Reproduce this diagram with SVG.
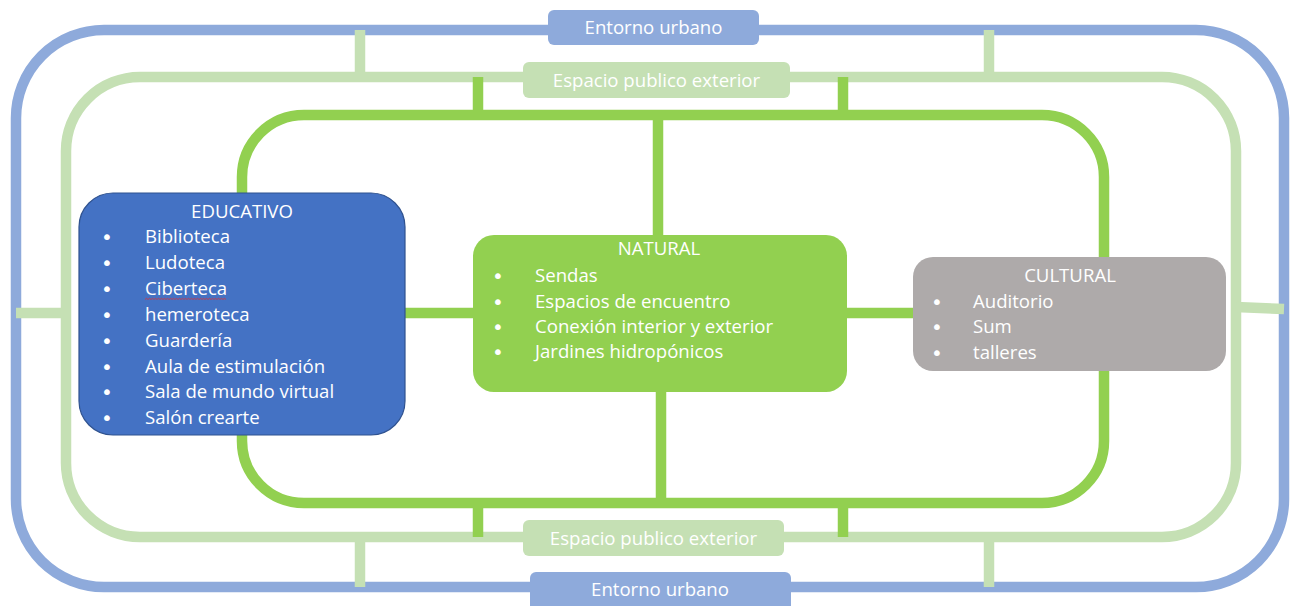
<svg xmlns="http://www.w3.org/2000/svg" width="1296" height="606" viewBox="0 0 1296 606">
<style>
.blue{fill:none;stroke:#8eaadb;stroke-width:10.5}
.lg{fill:none;stroke:#c5e0b4;stroke-width:10.5}
.bg{fill:none;stroke:#92d050;stroke-width:10.5}
text{font-family:"Open Sans","Noto Sans","Liberation Sans",sans-serif;fill:#ffffff;font-size:18.6px}
.c{text-anchor:middle}
.b{font-family:"DejaVu Sans",sans-serif;font-size:20px;text-anchor:middle}
</style>
<rect width="1296" height="606" fill="#ffffff"/>
<g id="connectors">
<rect class="blue" x="16" y="30" width="1268" height="557" rx="88"/>
<rect class="lg" x="66" y="77" width="1170" height="460" rx="74"/>
<rect class="bg" x="242" y="115" width="862" height="388" rx="62"/>
<line class="lg" x1="360" y1="30" x2="360" y2="77"/>
<line class="lg" x1="989" y1="30" x2="989" y2="77"/>
<line class="lg" x1="360" y1="537" x2="360" y2="587"/>
<line class="lg" x1="989" y1="537" x2="989" y2="587"/>
<line class="lg" x1="16" y1="313" x2="66" y2="313"/>
<line class="lg" x1="1236" y1="307" x2="1284" y2="309"/>
<line class="bg" x1="478" y1="77" x2="478" y2="115"/>
<line class="bg" x1="843" y1="77" x2="843" y2="115"/>
<line class="bg" x1="478" y1="503" x2="478" y2="537"/>
<line class="bg" x1="843" y1="503" x2="843" y2="537"/>
<line class="bg" x1="658" y1="115" x2="658" y2="236"/>
<line class="bg" x1="661" y1="391" x2="661" y2="503"/>
<line class="bg" x1="404" y1="313" x2="474" y2="313"/>
<line class="bg" x1="846" y1="313" x2="914" y2="313"/>
</g>
<g id="entorno-top">
<rect x="548" y="10" width="211" height="35" rx="6" fill="#8eaadb"/>
<text class="c" x="653.5" y="34">Entorno urbano</text>
</g>
<g id="espacio-top">
<rect x="523" y="62" width="267" height="36" rx="6" fill="#c5e0b4"/>
<text class="c" x="656.5" y="87">Espacio publico exterior</text>
</g>
<g id="espacio-bottom">
<rect x="523" y="520" width="261" height="36" rx="6" fill="#c5e0b4"/>
<text class="c" x="653.5" y="545">Espacio publico exterior</text>
</g>
<g id="entorno-bottom">
<rect x="530" y="572" width="261" height="44" rx="6" fill="#8eaadb"/>
<text class="c" x="660" y="596">Entorno urbano</text>
</g>
<g id="educativo">
<rect x="79" y="193" width="326" height="242" rx="34" fill="#4472c4" stroke="#2f528f" stroke-width="1.2"/>
<text class="c" x="242" y="218">EDUCATIVO</text>
<text class="b" x="107" y="244">•</text><text x="145" y="243">Biblioteca</text>
<text class="b" x="107" y="270">•</text><text x="145" y="269">Ludoteca</text>
<text class="b" x="107" y="296">•</text><text x="145" y="295">Ciberteca</text>
<text class="b" x="107" y="322">•</text><text x="145" y="321">hemeroteca</text>
<text class="b" x="107" y="348">•</text><text x="145" y="347">Guardería</text>
<text class="b" x="107" y="374">•</text><text x="145" y="373">Aula de estimulación</text>
<text class="b" x="107" y="399">•</text><text x="145" y="398">Sala de mundo virtual</text>
<text class="b" x="107" y="425">•</text><text x="145" y="424">Salón crearte</text>
<path d="M145 299.5 l1.5 -1.2 l1.5 1.2 l1.5 -1.2 l1.5 1.2 l1.5 -1.2 l1.5 1.2 l1.5 -1.2 l1.5 1.2 l1.5 -1.2 l1.5 1.2 l1.5 -1.2 l1.5 1.2 l1.5 -1.2 l1.5 1.2 l1.5 -1.2 l1.5 1.2 l1.5 -1.2 l1.5 1.2 l1.5 -1.2 l1.5 1.2 l1.5 -1.2 l1.5 1.2 l1.5 -1.2 l1.5 1.2 l1.5 -1.2 l1.5 1.2 l1.5 -1.2 l1.5 1.2 l1.5 -1.2 l1.5 1.2 l1.5 -1.2 l1.5 1.2 l1.5 -1.2 l1.5 1.2 l1.5 -1.2 l1.5 1.2 l1.5 -1.2 l1.5 1.2 l1.5 -1.2 l1.5 1.2 l1.5 -1.2 l1.5 1.2 l1.5 -1.2 l1.5 1.2 l1.5 -1.2 l1.5 1.2 l1.5 -1.2 l1.5 1.2 l1.5 -1.2 l1.5 1.2 l1.5 -1.2 l1.5 1.2 l1.5 -1.2 l1.5 1.2" fill="none" stroke="#e03030" stroke-width="0.8"/>
</g>
<g id="natural">
<rect x="473" y="235" width="374" height="157" rx="21" fill="#92d050"/>
<text class="c" x="659" y="255">NATURAL</text>
<text class="b" x="498" y="283">•</text><text x="535" y="282">Sendas</text>
<text class="b" x="498" y="309">•</text><text x="535" y="308">Espacios de encuentro</text>
<text class="b" x="498" y="334">•</text><text x="535" y="333">Conexión interior y exterior</text>
<text class="b" x="498" y="359">•</text><text x="535" y="358">Jardines hidropónicos</text>
</g>
<g id="cultural">
<rect x="913" y="257" width="313" height="114" rx="20" fill="#aeaaaa"/>
<text class="c" x="1070" y="282">CULTURAL</text>
<text class="b" x="937" y="309">•</text><text x="973" y="308">Auditorio</text>
<text class="b" x="937" y="334">•</text><text x="973" y="333">Sum</text>
<text class="b" x="937" y="360">•</text><text x="973" y="359">talleres</text>
</g>
</svg>
